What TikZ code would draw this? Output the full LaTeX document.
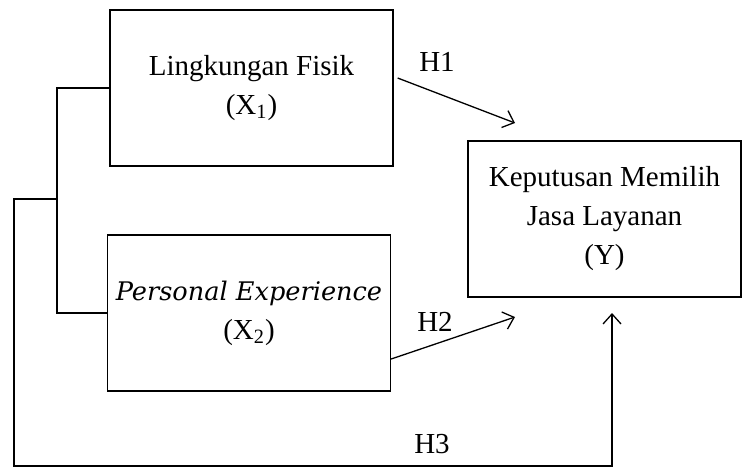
\documentclass[tikz,border=0pt]{standalone}
\usepackage{fontspec}
\setmainfont{Liberation Serif}
\newfontfamily\expfont{DejaVu Serif}
\usetikzlibrary{arrows.meta}

\begin{document}
\begin{tikzpicture}[x=0.5pt,y=-0.5pt]
    \tikzstyle{box}=[rectangle,draw=black,line width=0.65pt,align=center,inner sep=0pt,font=\fontsize{14.5}{19.5}\selectfont]
    \tikzstyle{hyp}=[inner sep=0pt,font=\fontsize{14.5}{17}\selectfont]
    \tikzstyle{link}=[line width=0.65pt]
    \tikzstyle{arr}=[link,-{Straight Barb[length=5pt,width=9pt]}]
    \useasboundingbox (0,0) rectangle (742,468);

    \node (x1)[box,minimum width=141.5pt,minimum height=78pt] at (251.5,88) {Lingkungan Fisik\\(X\textsubscript{1})};
    \node (x2)[box,minimum width=141.5pt,minimum height=78pt] at (249,313) {{\expfont\fontsize{12.8}{19.5}\selectfont\itshape Personal Experience}\\(X\textsubscript{2})};
    \node (y)[box,minimum width=136.5pt,minimum height=78pt] at (604.5,219) {Keputusan Memilih\\Jasa Layanan\\(Y)};

    \coordinate (jn) at (57,199);
    \coordinate (crn) at (14,466);
    \coordinate (t1) at (515,123);
    \coordinate (t2) at (515,317);
    \coordinate (t3) at (612,313);

    \draw[link] (x1.west) -| (jn) |- (x2.west);
    \draw[arr] (jn) -| (crn) -| (t3);
    \draw[arr] ([shift={(4,-10)}]x1.east) -- (t1);
    \draw[arr] ([shift={(0,46)}]x2.east) -- (t2);

    \node (h1)[hyp] at (437,62) {H1};
    \node (h2)[hyp] at (435,322) {H2};
    \node (h3)[hyp] at (432,444) {H3};
\end{tikzpicture}
\end{document}
